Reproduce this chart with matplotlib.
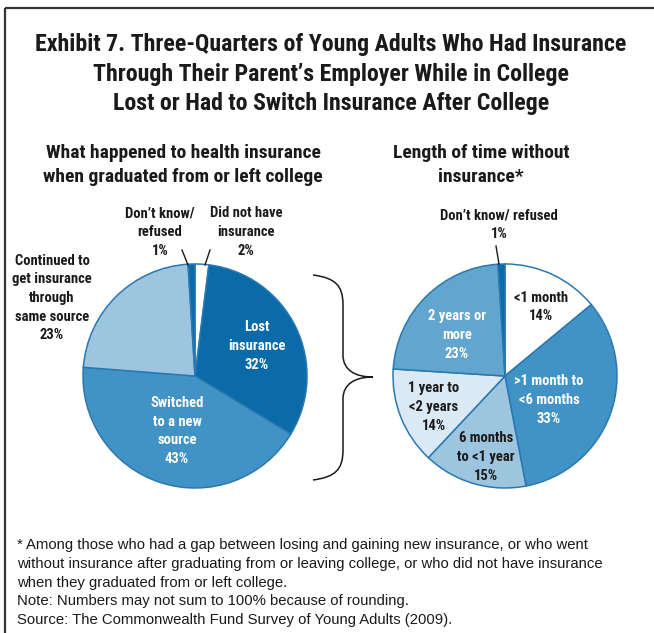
import matplotlib
matplotlib.use("Agg")
import matplotlib.pyplot as plt
from matplotlib.path import Path
from matplotlib.patches import PathPatch

NARROW = ['Roboto Condensed', 'DejaVu Sans']
REG = ['Liberation Sans', 'DejaVu Sans']

# ---- data ----
left_labels = ["Did not have\ninsurance", "Lost\ninsurance", "Switched\nto a new\nsource",
               "Continued to\nget insurance\nthrough\nsame source", "Don\u2019t know/\nrefused"]
left_values = [2, 32, 43, 23, 1]
left_colors = ["#ffffff", "#0b6aa8", "#4193c5", "#9dc5df", "#0b6aa8"]

right_labels = ["<1 month", ">1 month to\n<6 months", "6 months\nto <1 year",
                "1 year to\n<2 years", "2 years or\nmore", "Don\u2019t know/ refused"]
right_values = [14, 33, 15, 14, 23, 1]
right_colors = ["#ffffff", "#4193c5", "#9dc5df", "#dbe9f4", "#62a5cf", "#0b6aa8"]

W, H = 654, 633
fig = plt.figure(figsize=(W / 100, H / 100), dpi=100)
ax = fig.add_axes([0, 0, 1, 1])

def Y(y):
    return H - y

EDGE = "#2a78b2"
R = 112
ax.pie(left_values, colors=left_colors, startangle=90, counterclock=False,
       center=(195, Y(376)), radius=R, frame=True,
       wedgeprops=dict(edgecolor=EDGE, linewidth=1.1))
ax.pie(right_values, colors=right_colors, startangle=90, counterclock=False,
       center=(505, Y(376)), radius=R, frame=True,
       wedgeprops=dict(edgecolor=EDGE, linewidth=1.1))
ax.set_xlim(0, W)
ax.set_ylim(0, H)
ax.set_aspect('equal')
ax.axis('off')

LS = 1.42
def lab(x, y, s, color='#1a1a1a', size=10.5):
    ax.text(x, Y(y), s, ha='center', va='center', color=color, fontsize=size,
            family=NARROW, fontweight='bold', linespacing=LS)

def fmt(lbl, v):
    return f"{lbl}\n{v}%"

# left pie labels
lab(246, 232, fmt(left_labels[0], left_values[0]))
lab(257, 346, fmt(left_labels[1], left_values[1]), color='white')
lab(177, 431, fmt(left_labels[2], left_values[2]), color='white')
lab(52, 298, fmt(left_labels[3], left_values[3]))
lab(160, 232, fmt(left_labels[4], left_values[4]))
ax.plot([182, 188], [Y(250), Y(265)], color='#1a1a1a', lw=1)
ax.plot([210, 205], [Y(250), Y(265)], color='#1a1a1a', lw=1)

# right pie labels
lab(541, 307, fmt(right_labels[0], right_values[0]))
lab(549, 400, fmt(right_labels[1], right_values[1]), color='white')
lab(486, 457, fmt(right_labels[2], right_values[2]))
lab(434, 407, fmt(right_labels[3], right_values[3]))
lab(457, 335, fmt(right_labels[4], right_values[4]), color='white')
lab(499, 225, fmt(right_labels[5], right_values[5]))
ax.plot([496, 499], [Y(246), Y(264)], color='#1a1a1a', lw=1)

# brace
verts = [(313, Y(275)), (335, Y(278)), (343, Y(285)), (343, Y(305)),
         (343, Y(355)),
         (343, Y(370)), (355, Y(377)), (373, Y(377)),
         (355, Y(377)), (343, Y(384)), (343, Y(399)),
         (343, Y(450)),
         (343, Y(470)), (335, Y(477)), (313, Y(480))]
codes = [Path.MOVETO, Path.CURVE4, Path.CURVE4, Path.CURVE4,
         Path.LINETO,
         Path.CURVE4, Path.CURVE4, Path.CURVE4,
         Path.CURVE4, Path.CURVE4, Path.CURVE4,
         Path.LINETO,
         Path.CURVE4, Path.CURVE4, Path.CURVE4]
ax.add_patch(PathPatch(Path(verts, codes), fill=False, edgecolor='#1a1a1a', lw=1.1))

# titles
ax.text(331, Y(74), "Exhibit 7. Three-Quarters of Young Adults Who Had Insurance\n"
        "Through Their Parent\u2019s Employer While in College\n"
        "Lost or Had to Switch Insurance After College",
        ha='center', va='center', fontsize=17.2, family=NARROW, fontweight='bold',
        color='#1a1a1a', linespacing=1.34)
ax.text(183, Y(165), "What happened to health insurance\nwhen graduated from or left college",
        ha='center', va='center', fontsize=14, family=NARROW, fontweight='bold',
        color='#1a1a1a', linespacing=1.44)
ax.text(481, Y(165), "Length of time without\ninsurance*",
        ha='center', va='center', fontsize=14, family=NARROW, fontweight='bold',
        color='#1a1a1a', linespacing=1.44)

# footer
foot = ["* Among those who had a gap between losing and gaining new insurance, or who went",
        "without insurance after graduating from or leaving college, or who did not have insurance",
        "when they graduated from or left college.",
        "Note: Numbers may not sum to 100% because of rounding.",
        "Source: The Commonwealth Fund Survey of Young Adults (2009)."]
for i, line in enumerate(foot):
    ax.text(17, Y(545 + i * 18.8), line, ha='left', va='center', fontsize=10.7,
            family=REG, color='#1a1a1a')

# frame
ax.plot([5, W], [Y(7.5), Y(7.5)], color='#333333', lw=1.6, solid_capstyle='butt')
ax.plot([5, 5], [Y(7.5), 0], color='#333333', lw=1.6, solid_capstyle='butt')

fig.savefig("out.png", dpi=100)
